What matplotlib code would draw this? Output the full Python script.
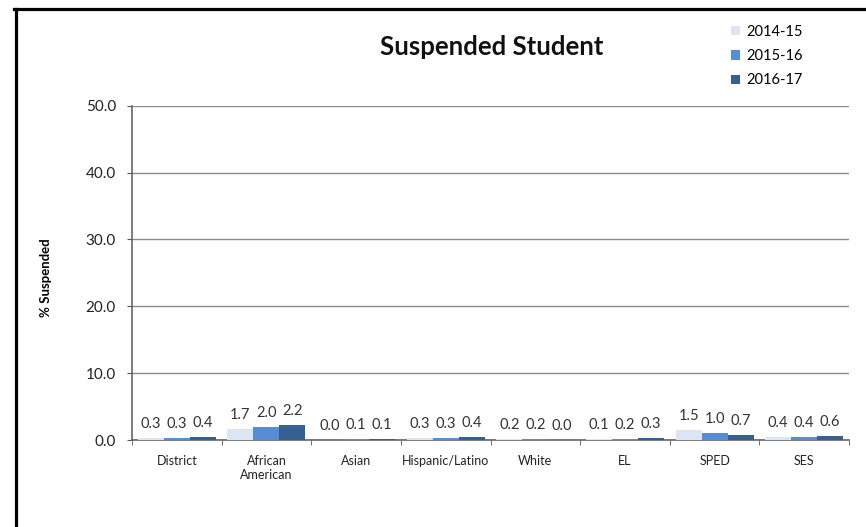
import numpy as np
import matplotlib.pyplot as plt
from matplotlib.lines import Line2D

plt.rcParams['font.family'] = ['Lato', 'DejaVu Sans']

# categories and series
groups = ['District', 'African\nAmerican', 'Asian', 'Hispanic/Latino',
          'White', 'EL', 'SPED', 'SES']
years = ['2014-15', '2015-16', '2016-17']
y2014 = [0.3, 1.7, 0.0, 0.3, 0.2, 0.1, 1.5, 0.4]
y2015 = [0.3, 2.0, 0.1, 0.3, 0.2, 0.2, 1.0, 0.4]
y2016 = [0.4, 2.2, 0.1, 0.4, 0.0, 0.3, 0.7, 0.6]
yticks = [0, 10, 20, 30, 40, 50]

colors = ['#DCE6F2', '#558ED5', '#376092']

W, H = 866, 527
fig = plt.figure(figsize=(W / 100, H / 100), dpi=100)
# axes box in pixels: x 132..849, y 105.7..440
ax = fig.add_axes([132 / W, 1 - 440 / H, (849 - 132) / W, (440 - 105.7) / H])

x = np.arange(len(groups))
w = 0.29
for k, (vals, c, lab) in enumerate(zip([y2014, y2015, y2016], colors, years)):
    pos = x + (k - 1) * w
    ax.bar(pos, vals, width=w, color=c, label=lab, zorder=3)
    for p, v in zip(pos, vals):
        ax.annotate(f'{v:.1f}', (p, v), xytext=(0, 10), textcoords='offset points',
                    ha='center', va='center', fontsize=10.5, color='#333333')

ax.set_xlim(-0.5, len(groups) - 0.5)
ax.set_ylim(0, 50)
ax.set_yticks(yticks)
ax.set_yticklabels([f'{t:.1f}' for t in yticks], fontsize=11, color='#222222')
ax.yaxis.grid(True, color='#8c8c8c', linewidth=1)
ax.set_axisbelow(True)

# category labels centred, ticks on the boundaries
ax.set_xticks(x)
ax.set_xticklabels(groups, fontsize=9, color='#222222', va='top')
ax.tick_params(axis='x', length=0, pad=11)
ax.set_xticks(np.arange(-0.5, len(groups)), minor=True)
ax.tick_params(axis='x', which='minor', length=3.6, color='#555555', direction='out')
ax.tick_params(axis='y', length=3.6, color='#555555', direction='out', pad=8)

for s in ['top', 'right']:
    ax.spines[s].set_visible(False)
for s in ['left', 'bottom']:
    ax.spines[s].set_color('#666666')
    ax.spines[s].set_linewidth(1.2)

ax.set_ylabel('% Suspended', fontsize=9.5, fontweight='bold')
ax.yaxis.set_label_coords((52 - 132) / (849 - 132), (440 - 278) / (440 - 105.7))

fig.text(492 / W, 1 - 47 / H, 'Suspended Student', ha='center', va='center',
         fontsize=18.5, fontweight='bold', color='#111111')

fig.legend(loc='upper left', bbox_to_anchor=(731 / W, 1 - 24.5 / H), frameon=False,
           fontsize=10.5, handlelength=0.62, handleheight=0.62, borderpad=0,
           handletextpad=0.42, labelspacing=0.72, borderaxespad=0)

# black frame on the top and left edge
fig.add_artist(Line2D([15.5 / W, 15.5 / W], [0, 1 - 8.5 / H],
                      transform=fig.transFigure, color='black', linewidth=2.3))
fig.add_artist(Line2D([14 / W, 1], [1 - 8.5 / H, 1 - 8.5 / H],
                      transform=fig.transFigure, color='black', linewidth=2.3))

fig.savefig('out.png', dpi=100)
